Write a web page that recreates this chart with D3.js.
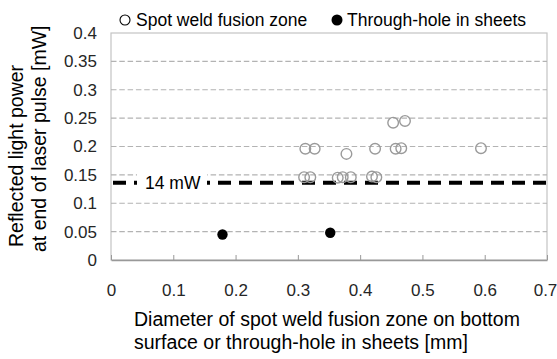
<!DOCTYPE html>
<html>
<head>
<meta charset="utf-8">
<script src="https://cdn.jsdelivr.net/npm/d3@7"></script>
<style>
  html, body { margin: 0; padding: 0; background: #fff; }
  svg { display: block; font-family: "Liberation Sans", Arial, sans-serif; }
  .tickText { fill: #262626; font-size: 17px; }
  .axisTitle { fill: #000; font-size: 19.5px; }
  .legendText { fill: #000; font-size: 17.5px; }
</style>
</head>
<body>
<div id="chart"><svg width="557" height="359"></svg></div>
<script>

// ---- data ----
const spotX = [0.312, 0.327, 0.378, 0.424, 0.457, 0.466, 0.594,
               0.310, 0.320, 0.364, 0.372, 0.385, 0.419, 0.426,
               0.453, 0.472];
const spotY = [0.196, 0.196, 0.187, 0.196, 0.196, 0.197, 0.197,
               0.146, 0.146, 0.145, 0.146, 0.146, 0.147, 0.146,
               0.242, 0.245];
const holeX = [0.179, 0.352];
const holeY = [0.045, 0.048];

const xTicks = [0, 0.1, 0.2, 0.3, 0.4, 0.5, 0.6, 0.7];
const yTicks = [0, 0.05, 0.1, 0.15, 0.2, 0.25, 0.3, 0.35, 0.4];
const gridTicks = [0.05, 0.1, 0.15, 0.2, 0.25, 0.3, 0.35];
const thresholdValue = 0.136;
const thresholdLabel = "14 mW";
const legendLabels = ["Spot weld fusion zone", "Through-hole in sheets"];
const xTitle = ["Diameter of spot weld fusion zone on bottom",
                "surface or through-hole in sheets [mm]"];
const yTitle = ["Reflected light power", "at end of laser pulse [mW]"];

/***** setup *****/
const svg = d3.select("#chart").select("svg");
const margin = {top: 33, left: 111, right: 10, bottom: 99};
const plotWidth = 557 - margin.left - margin.right;
const plotHeight = 359 - margin.top - margin.bottom;

const xScale = d3.scaleLinear().domain([0, 0.7]).range([0, plotWidth]);
const yScale = d3.scaleLinear().domain([0, 0.4]).range([plotHeight, 0]);

const plot = svg.append("g")
    .attr("transform", `translate(${margin.left}, ${margin.top})`);

/***** frame and grid *****/
plot.append("rect")
    .attr("x", 0).attr("y", 0)
    .attr("width", plotWidth).attr("height", plotHeight)
    .attr("fill", "none")
    .attr("stroke", "#c4c4c4")
    .attr("stroke-width", 1.2);

plot.selectAll(".grid")
    .data(gridTicks)
    .enter()
    .append("line")
    .attr("class", "grid")
    .attr("x1", 0).attr("x2", plotWidth)
    .attr("y1", d => yScale(d)).attr("y2", d => yScale(d))
    .attr("stroke", "#b3b3b3")
    .attr("stroke-width", 1.2)
    .attr("stroke-dasharray", "5.5,2.8");

/***** axes *****/
const xAxis = plot.append("g")
    .attr("transform", `translate(0, ${plotHeight})`)
    .call(d3.axisBottom(xScale)
        .tickValues(xTicks)
        .tickFormat(d => d === 0 ? "0" : d3.format(".1f")(d))
        .tickSizeInner(-5)
        .tickSizeOuter(0)
        .tickPadding(24));
xAxis.select(".domain").attr("stroke", "#999").attr("stroke-width", 1.3);
xAxis.selectAll(".tick line").attr("stroke", "#999");
xAxis.selectAll("text").attr("class", "tickText").attr("font-size", null).attr("font-family", null);
// last label sits at the window edge; pull it in a little
xAxis.selectAll(".tick text").filter(d => d === 0.7).attr("dx", -2);

const yAxis = plot.append("g")
    .call(d3.axisLeft(yScale)
        .tickValues(yTicks)
        .tickFormat(d => d === 0 ? "0" : String(+d.toFixed(2)))
        .tickSize(0)
        .tickPadding(14));
yAxis.select(".domain").remove();
yAxis.selectAll("text").attr("class", "tickText").attr("font-size", null).attr("font-family", null);

/***** threshold line *****/
const yThr = yScale(thresholdValue);
plot.append("line")
    .attr("x1", xScale(0)).attr("x2", xScale(0.7))
    .attr("y1", yThr).attr("y2", yThr)
    .attr("stroke", "#000")
    .attr("stroke-width", 4)
    .attr("stroke-dasharray", "13,8")
    .attr("stroke-dashoffset", -2);

plot.append("rect")
    .attr("x", 26).attr("y", yThr - 11)
    .attr("width", 70).attr("height", 22)
    .attr("fill", "#fff");

plot.append("text")
    .attr("x", 34).attr("y", yThr + 6)
    .attr("font-size", "17.5px")
    .attr("fill", "#000")
    .text(thresholdLabel);

/***** points *****/
plot.selectAll(".spot")
    .data(spotX.map((x, i) => ({x: x, y: spotY[i]})))
    .enter()
    .append("circle")
    .attr("class", "spot")
    .attr("cx", d => xScale(d.x))
    .attr("cy", d => yScale(d.y))
    .attr("r", 5.3)
    .attr("fill", "none")
    .attr("stroke", "#9a9a9a")
    .attr("stroke-width", 1.4);

plot.selectAll(".hole")
    .data(holeX.map((x, i) => ({x: x, y: holeY[i]})))
    .enter()
    .append("circle")
    .attr("class", "hole")
    .attr("cx", d => xScale(d.x))
    .attr("cy", d => yScale(d.y))
    .attr("r", 5.2)
    .attr("fill", "#000");

/***** legend *****/
const legend = svg.append("g").attr("id", "legend");
legend.append("circle")
    .attr("cx", 125).attr("cy", 20).attr("r", 5)
    .attr("fill", "#fff").attr("stroke", "#000").attr("stroke-width", 1.1);
legend.append("text")
    .attr("class", "legendText")
    .attr("x", 136).attr("y", 26)
    .text(legendLabels[0]);
legend.append("circle")
    .attr("cx", 337).attr("cy", 20).attr("r", 5.5)
    .attr("fill", "#000");
legend.append("text")
    .attr("class", "legendText")
    .attr("x", 347).attr("y", 26)
    .text(legendLabels[1]);

/***** axis titles *****/
svg.selectAll(".xTitle")
    .data(xTitle)
    .enter()
    .append("text")
    .attr("class", "axisTitle")
    .attr("x", 134)
    .attr("y", (d, i) => 326 + i * 22.5)
    .text(d => d);

svg.selectAll(".yTitle")
    .data(yTitle)
    .enter()
    .append("text")
    .attr("class", "axisTitle")
    .attr("transform", (d, i) => `translate(${23 + i * 23}, ${i === 0 ? 247 : 252}) rotate(-90)`)
    .text(d => d);

</script>
</body>
</html>
